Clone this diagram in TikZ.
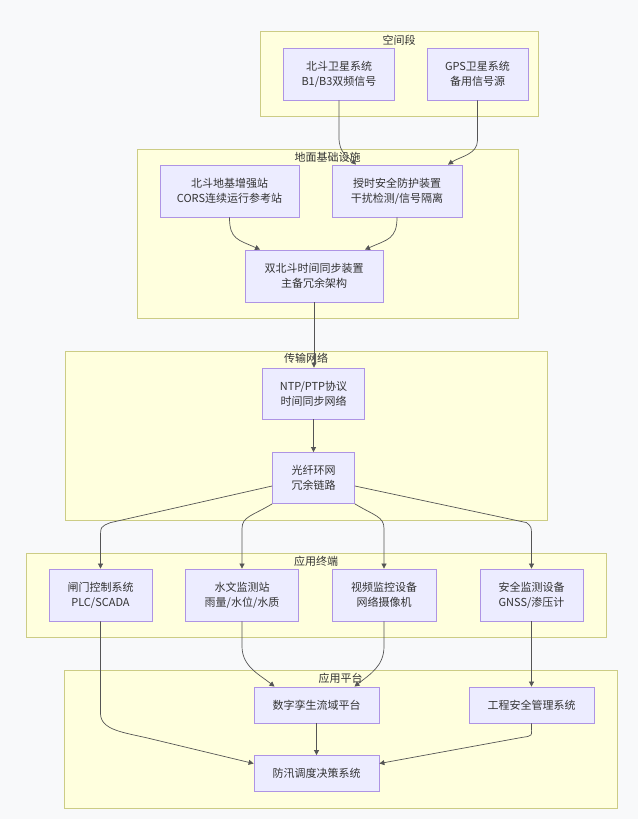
\documentclass[tikz,border=0pt]{standalone}
\usepackage{fontspec}
\setmainfont{Noto Sans CJK SC}
\usetikzlibrary{arrows.meta,calc}
\definecolor{nodefill}{HTML}{ECECFF}
\definecolor{nodeline}{HTML}{9370DB}
\definecolor{grpfill}{HTML}{FFFFDE}
\definecolor{grpline}{HTML}{AAAA33}
\definecolor{bgcol}{HTML}{F8F9FA}
\definecolor{txtcol}{HTML}{333333}
\definecolor{linkcol}{HTML}{555555}

\begin{document}
\begin{tikzpicture}[x=1pt,y=-1pt,
    font=\fontsize{11}{15}\selectfont, text=txtcol,
    box/.style={draw=nodeline!75, fill=nodefill, line width=0.8pt, align=center, inner sep=0pt},
    grp/.style={draw=grpline!60, fill=grpfill, line width=0.8pt},
    grptitle/.style={inner sep=0pt},
    link/.style={draw=linkcol, line width=0.7pt, -{Triangle[length=5pt,width=5pt]}}]
        \fill[bgcol](0,0)rectangle(638,819);
        \useasboundingbox(0,0)rectangle(638,819);

        % subgraphs
        \draw[grp](260,31)rectangle(538,116);
        \node[grptitle](tkj)at(399,40){空间段};
        \draw[grp](137,149)rectangle(518,318);
        \node[grptitle](tdm)at(327.5,157){地面基础设施};
        \draw[grp](65,351)rectangle(547,520);
        \node[grptitle](tcs)at(306,358){传输网络};
        \draw[grp](26,553)rectangle(606,637);
        \node[grptitle](tzd)at(316,561){应用终端};
        \draw[grp](64,670)rectangle(617,808);
        \node[grptitle](tpt)at(340.5,678){应用平台};

        % 空间段
        \node[box,minimum width=111pt,minimum height=52pt](bds)at(339,74){北斗卫星系统\\B1/B3双频信号};
        \node[box,minimum width=101pt,minimum height=52pt](gps)at(477.5,74){GPS卫星系统\\备用信号源};
        % 地面基础设施
        \node[box,minimum width=139pt,minimum height=52pt](cors)at(229.5,191){北斗地基增强站\\CORS连续运行参考站};
        \node[box,minimum width=130pt,minimum height=52pt](sqaf)at(397,191){授时安全防护装置\\干扰检测/信号隔离};
        \node[box,minimum width=138pt,minimum height=52pt](tbz)at(314,276){双北斗时间同步装置\\主备冗余架构};
        % 传输网络
        \node[box,minimum width=102pt,minimum height=51pt](ntp)at(313.5,393.5){NTP/PTP协议\\时间同步网络};
        \node[box,minimum width=82pt,minimum height=51pt](gxhw)at(313.5,478){光纤环网\\冗余链路};
        % 应用终端
        \node[box,minimum width=103pt,minimum height=52pt](zm)at(100.5,595){闸门控制系统\\PLC/SCADA};
        \node[box,minimum width=113pt,minimum height=52pt](sw)at(242,595){水文监测站\\雨量/水位/水质};
        \node[box,minimum width=104pt,minimum height=52pt](sp)at(384,595){视频监控设备\\网络摄像机};
        \node[box,minimum width=103pt,minimum height=52pt](aq)at(531.5,595){安全监测设备\\GNSS/渗压计};
        % 应用平台
        \node[box,minimum width=125pt,minimum height=36pt](sz)at(316.5,705){数字孪生流域平台};
        \node[box,minimum width=125pt,minimum height=36pt](gc)at(531.5,705){工程安全管理系统};
        \node[box,minimum width=125pt,minimum height=36pt](fx)at(316.5,773.5){防汛调度决策系统};

        % links
        \draw[link](bds.south)--++(0,37)..controls +(0,16) and +(-8,-8)..([xshift=-41pt]sqaf.north);
        \draw[link](gps.south)--++(0,40)..controls +(0,14) and +(12,-8)..([xshift=51pt]sqaf.north);
        \draw[link](cors.south)..controls +(0,22) and +(-22,-10)..([xshift=-54pt]tbz.north);
        \draw[link](sqaf.south)..controls +(0,22) and +(22,-10)..([xshift=51pt]tbz.north);
        \draw[link](tbz.south)--(tbz.south |- ntp.north);
        \draw[link](ntp.south)--(gxhw.north);

        \draw[link]([yshift=-8pt]gxhw.west)--($(zm.north)+(10,-46)$)..controls($(zm.north)+(0,-42)$)..($(zm.north)+(0,-30)$)--(zm.north);
        \draw[link](gxhw.south west)..controls +(-20,12) and +(0,-12)..($(sw.north)+(0,-40)$)--(sw.north);
        \draw[link](gxhw.south east)..controls +(20,12) and +(0,-12)..($(sp.north)+(0,-40)$)--(sp.north);
        \draw[link]([yshift=-8pt]gxhw.east)--($(aq.north)+(-5,-46)$)..controls($(aq.north)+(0,-42)$)..($(aq.north)+(0,-30)$)--(aq.north);

        \draw[link](sw.south)--++(0,25)..controls +(0,20) and +(-15,-12)..([xshift=-42pt]sz.north);
        \draw[link](sp.south)--++(0,25)..controls +(0,20) and +(15,-12)..([xshift=38pt]sz.north);
        \draw[link](aq.south)--(gc.north);
        \draw[link](sz.south)--(fx.north);
        \draw[link](zm.south)--($(zm.south)+(0,92)$)..controls +(0,17) and +(-25,-6)..($(fx.west)+(-104,-35)$)--([yshift=10pt]fx.west);
        \draw[link](gc.south)..controls +(0,14) and +(12,-2)..($(fx.east)+(142,-36)$)--([yshift=10pt]fx.east);
    \end{tikzpicture}
\end{document}
